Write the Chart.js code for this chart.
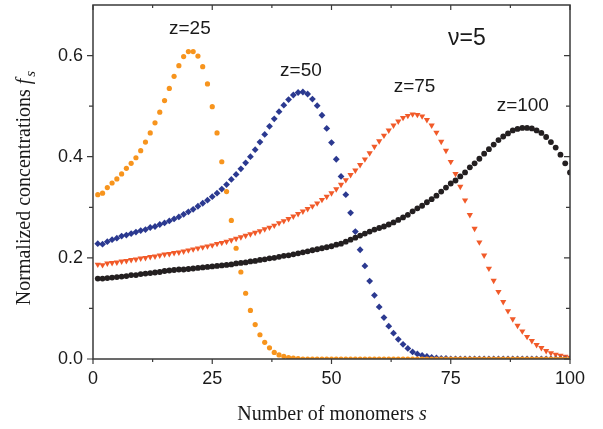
<!DOCTYPE html>
<html>
<head>
<meta charset="utf-8">
<script src="https://cdn.jsdelivr.net/npm/chart.js@4.4.1/dist/chart.umd.min.js"></script>
<style>
  body { margin: 0; background: #fff; }
  #wrap { width: 603px; height: 429px; position: relative; }
</style>
</head>
<body>
<div id="wrap"><canvas id="fs-chart"></canvas></div>
<script>
// number of monomers s
const monomers = [1,2,3,4,5,6,7,8,9,10,11,12,13,14,15,16,17,18,19,20,
  21,22,23,24,25,26,27,28,29,30,31,32,33,34,35,36,37,38,39,40,
  41,42,43,44,45,46,47,48,49,50,51,52,53,54,55,56,57,58,59,60,
  61,62,63,64,65,66,67,68,69,70,71,72,73,74,75,76,77,78,79,80,
  81,82,83,84,85,86,87,88,89,90,91,92,93,94,95,96,97,98,99,100]

// normalized concentrations f_s
const z25 = [.325,.328,.339,.348,.356,.366,.377,.387,.398,.412,
  .429,.447,.467,.488,.511,.535,.559,.580,.598,.608,
  .608,.599,.578,.544,.499,.447,.390,.331,.274,.219,
  .172,.130,.096,.068,.048,.033,.022,.013,.008,.005,
  .003,.002,.001,0,0,0,0,0,0,0,
  0,0,0,0,0,0,0,0,0,0, 0,0,0,0,0,0,0,0,0,0,
  0,0,0,0,0,0,0,0,0,0, 0,0,0,0,0,0,0,0,0,0, 0,0,0,0,0,0,0,0,0,0]
const z50 = [.228,.227,.232,.236,.239,.243,.245,.248,.251,.254,
  .256,.260,.262,.266,.269,.273,.277,.281,.286,.291,
  .296,.302,.308,.314,.321,.328,.336,.345,.355,.365,
  .376,.388,.400,.414,.429,.444,.460,.475,.489,.502,
  .513,.522,.527,.528,.524,.514,.501,.482,.456,.428,
  .395,.361,.325,.289,.252,.216,.184,.154,.126,.103,
  .082,.065,.051,.039,.029,.021,.014,.010,.007,.005,
  .003,.002,.001,.001,0,0,0,0,0,0,
  0,0,0,0,0,0,0,0,0,0, 0,0,0,0,0,0,0,0,0,0]
const z75 = [.187,.186,.189,.190,.191,.193,.194,.196,.197,.199,
  .200,.202,.203,.205,.207,.208,.210,.211,.213,.215,
  .217,.219,.221,.223,.225,.228,.230,.232,.235,.238,
  .241,.244,.247,.250,.253,.257,.260,.264,.269,.273,
  .277,.282,.287,.292,.297,.302,.308,.315,.321,.328,
  .336,.345,.354,.364,.373,.384,.395,.407,.420,.431,
  .442,.452,.462,.470,.477,.481,.484,.483,.480,.473,
  .462,.448,.430,.412,.390,.366,.341,.314,.285,.258,
  .231,.205,.179,.155,.133,.113,.095,.079,.066,.055,
  .044,.036,.028,.022,.016,.012,.009,.007,.005,.003]
const z100 = [.159,.159,.160,.161,.162,.163,.164,.166,.166,.168,
  .169,.170,.171,.172,.174,.175,.176,.177,.177,.178,
  .179,.180,.181,.182,.183,.184,.185,.186,.187,.189,
  .190,.191,.193,.194,.196,.197,.199,.200,.202,.204,
  .205,.207,.209,.211,.213,.215,.217,.219,.221,.223,
  .226,.228,.232,.236,.240,.244,.248,.252,.256,.259,
  .262,.266,.270,.275,.280,.285,.292,.298,.303,.310,
  .316,.323,.331,.339,.347,.353,.361,.369,.379,.387,
  .396,.406,.415,.424,.433,.440,.446,.452,.455,.457,
  .457,.456,.452,.447,.439,.429,.418,.404,.387,.369]

const xTicks = [0, 25, 50, 75, 100]
const xMinorTicks = [12.5, 37.5, 62.5, 87.5]
const yTicks = [0, 0.2, 0.4, 0.6]
const yMinorTicks = [0.1, 0.3, 0.5]

// curve labels: text and where they sit in data units
const curveLabels = [
  { text: 'z=25', x: 20.3, y: 0.653 },
  { text: 'z=50', x: 43.6, y: 0.570 },
  { text: 'z=75', x: 67.4, y: 0.538 },
  { text: 'z=100', x: 90.1, y: 0.501 }
]

const axisColor = '#3a3a3a'

function toPoints(vals) {
  return vals.map((v, i) => ({ x: monomers[i], y: v }))
}

const framePlugin = {
  id: 'frame',
  afterDatasetsDraw(chart) {
    const ctx = chart.ctx
    const xs = chart.scales.x, ys = chart.scales.y
    ctx.save()
    ctx.fillStyle = '#1a1a1a'
    ctx.textAlign = 'center'
    ctx.textBaseline = 'middle'
    ctx.font = '19px "Liberation Sans", Arial, sans-serif'
    curveLabels.forEach(l => {
      ctx.fillText(l.text, xs.getPixelForValue(l.x), ys.getPixelForValue(l.y))
    })
    ctx.font = '23px "Liberation Sans", Arial, sans-serif'
    ctx.fillText('\u03bd=5', xs.getPixelForValue(78.4), ys.getPixelForValue(0.633))
    ctx.restore()
  },
  afterDraw(chart) {
    const ctx = chart.ctx
    const a = chart.chartArea
    const xs = chart.scales.x, ys = chart.scales.y
    ctx.save()
    ctx.strokeStyle = axisColor
    ctx.lineWidth = 1.5
    ctx.strokeRect(a.left, a.top, a.right - a.left, a.bottom - a.top)
    ctx.lineWidth = 1.2
    ctx.beginPath()
    const xt = (v, len) => {
      const p = xs.getPixelForValue(v)
      ctx.moveTo(p, a.bottom); ctx.lineTo(p, a.bottom + len)
      ctx.moveTo(p, a.top); ctx.lineTo(p, a.top + len)
    }
    const yt = (v, len) => {
      const p = ys.getPixelForValue(v)
      ctx.moveTo(a.left, p); ctx.lineTo(a.left - len, p)
      ctx.moveTo(a.right, p); ctx.lineTo(a.right - len, p)
    }
    xTicks.forEach(v => xt(v, 5))
    xMinorTicks.forEach(v => xt(v, 3))
    yTicks.forEach(v => yt(v, 6))
    yMinorTicks.forEach(v => yt(v, 4))
    ctx.stroke()

    // axis titles with italic symbols
    ctx.fillStyle = '#1a1a1a'
    ctx.textBaseline = 'alphabetic'
    ctx.textAlign = 'left'
    const reg = '20px "Liberation Serif", "Times New Roman", serif'
    const ita = 'italic 20px "Liberation Serif", "Times New Roman", serif'
    const sub = 'italic 15px "Liberation Serif", "Times New Roman", serif'

    // x title
    let t1 = 'Number of monomers '
    ctx.font = reg
    let w1 = ctx.measureText(t1).width
    ctx.font = ita
    let w2 = ctx.measureText('s').width
    let x0 = 332 - (w1 + w2) / 2
    ctx.font = reg
    ctx.fillText(t1, x0, 420)
    ctx.font = ita
    ctx.fillText('s', x0 + w1, 420)

    // y title
    ctx.translate(30, 188)
    ctx.rotate(-Math.PI / 2)
    t1 = 'Normalized concentrations '
    ctx.font = reg
    w1 = ctx.measureText(t1).width
    ctx.font = ita
    w2 = ctx.measureText('f').width
    ctx.font = sub
    const w3 = ctx.measureText('s').width
    x0 = -(w1 + w2 + w3 + 2) / 2
    ctx.font = reg
    ctx.fillText(t1, x0, 0)
    ctx.font = ita
    ctx.fillText('f', x0 + w1, 0)
    ctx.font = sub
    ctx.fillText('s', x0 + w1 + w2 + 2, 5)
    ctx.restore()
  }
}

const ctx = document.getElementById('fs-chart')
const fsChart = new Chart(ctx, {
  type: 'scatter',
  data: {
    datasets: [{
      label: 'z=25',
      data: toPoints(z25),
      pointStyle: 'circle',
      pointRadius: 2.6,
      backgroundColor: '#F7941D',
      borderColor: '#F7941D',
      borderWidth: 0
    }, {
      label: 'z=50',
      data: toPoints(z50),
      pointStyle: 'rectRot',
      pointRadius: 3.4,
      backgroundColor: '#2B3990',
      borderColor: '#2B3990',
      borderWidth: 0
    }, {
      label: 'z=75',
      data: toPoints(z75),
      pointStyle: 'triangle',
      rotation: 180,
      pointRadius: 3.6,
      backgroundColor: '#F15A29',
      borderColor: '#F15A29',
      borderWidth: 0
    }, {
      label: 'z=100',
      data: toPoints(z100),
      pointStyle: 'circle',
      pointRadius: 2.9,
      backgroundColor: '#231F20',
      borderColor: '#231F20',
      borderWidth: 0
    }]
  },
  options: {
    responsive: true,
    maintainAspectRatio: false,
    animation: false,
    layout: { padding: { left: 0, top: 5, right: 33, bottom: 0 } },
    plugins: {
      legend: { display: false },
      tooltip: { enabled: false }
    },
    scales: {
      x: {
        type: 'linear',
        min: 0,
        max: 100,
        afterFit: (s) => { s.height = 70; s.paddingLeft = 0; s.paddingRight = 0 },
        afterBuildTicks: (s) => { s.ticks = xTicks.map(v => ({ value: v })) },
        grid: { display: false, drawTicks: false },
        border: { display: false },
        ticks: {
          padding: 9,
          color: '#1a1a1a',
          font: { family: '"Liberation Sans", Arial, sans-serif', size: 18 },
          maxRotation: 0
        }
      },
      y: {
        type: 'linear',
        min: 0,
        max: 0.7,
        afterFit: (s) => { s.width = 93; s.paddingTop = 0; s.paddingBottom = 0 },
        afterBuildTicks: (s) => { s.ticks = yTicks.map(v => ({ value: v })) },
        grid: { display: false, drawTicks: false },
        border: { display: false },
        ticks: {
          padding: 10,
          color: '#1a1a1a',
          font: { family: '"Liberation Sans", Arial, sans-serif', size: 18 },
          callback: (v) => v.toFixed(1)
        }
      }
    }
  },
  plugins: [framePlugin]
})
</script>
</body>
</html>
